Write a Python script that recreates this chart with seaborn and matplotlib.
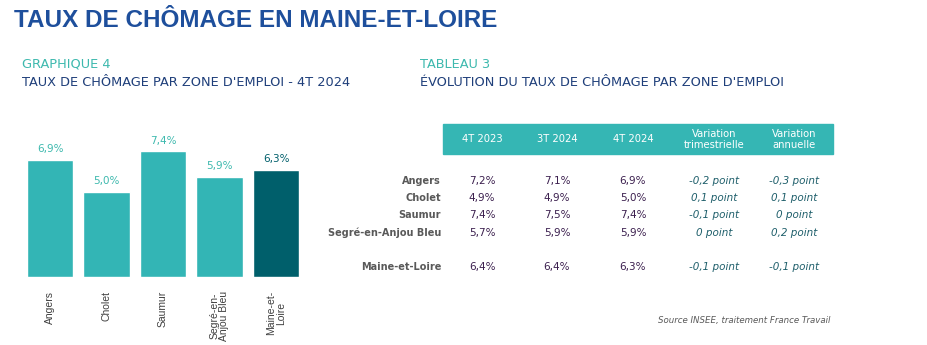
import matplotlib
matplotlib.use("Agg")
import matplotlib.pyplot as plt
import seaborn as sns
import pandas as pd
from matplotlib.patches import Rectangle

# ---- data ----
zones = ["Angers", "Cholet", "Saumur", "Segré-en-\nAnjou Bleu", "Maine-et-\nLoire"]
taux_4t2024 = [6.9, 5.0, 7.4, 5.9, 6.3]

table_rows = ["Angers", "Cholet", "Saumur", "Segré-en-Anjou Bleu", "Maine-et-Loire"]
col_headers = ["4T 2023", "3T 2024", "4T 2024", "Variation\ntrimestrielle", "Variation\nannuelle"]
t_4t2023 = [7.2, 4.9, 7.4, 5.7, 6.4]
t_3t2024 = [7.1, 4.9, 7.5, 5.9, 6.4]
t_4t2024 = [6.9, 5.0, 7.4, 5.9, 6.3]
var_trim = ["-0,2 point", "0,1 point", "-0,1 point", "0 point", "-0,1 point"]
var_ann = ["-0,3 point", "0,1 point", "0 point", "0,2 point", "-0,1 point"]

TEAL = "#33B5B5"
DARK = "#005F6B"
BLUE_T = "#1E4F9C"
NAVY = "#1F3F7A"

sns.set_theme(style="white")
plt.rcParams["font.family"] = ["DejaVu Sans"]

W, H = 927, 345
fig = plt.figure(figsize=(W / 100, H / 100), dpi=100)

def fx(px):
    return px / W

def fy(py):
    return 1 - py / H

# Titles
fig.text(fx(14), fy(27), "TAUX DE CHÔMAGE EN MAINE-ET-LOIRE", fontsize=17.5,
         fontweight="bold", color=BLUE_T, va="baseline", ha="left",
         family=["Liberation Sans", "DejaVu Sans"])
fig.text(fx(22), fy(64), "GRAPHIQUE 4", fontsize=9.25, color="#3DB9AE", va="center")
fig.text(fx(22), fy(83), "TAUX DE CHÔMAGE PAR ZONE D'EMPLOI - 4T 2024", fontsize=9.25,
         color=NAVY, va="center")
fig.text(fx(420), fy(64), "TABLEAU 3", fontsize=9.25, color="#3DB9AE", va="center")
fig.text(fx(420), fy(83), "ÉVOLUTION DU TAUX DE CHÔMAGE PAR ZONE D'EMPLOI", fontsize=9.25,
         color=NAVY, va="center")

# ---- bar chart ----
ax_left, ax_right = 21.75, 304.25
base_y = 277
ymax = 8.5
top_y = base_y - ymax * 17
ax = fig.add_axes([fx(ax_left), fy(base_y), fx(ax_right - ax_left), (base_y - top_y) / H])
df = pd.DataFrame({"zone": zones, "taux": taux_4t2024})
palette = [TEAL] * (len(zones) - 1) + [DARK]
sns.barplot(data=df, x="zone", y="taux", hue="zone", palette=palette, legend=False,
            width=0.82, ax=ax, saturation=1)
ax.set_ylim(0, ymax)
ax.set_xlim(-0.5, len(zones) - 0.5)
for sp in ax.spines.values():
    sp.set_visible(False)
ax.set_yticks([])
ax.set_xlabel("")
ax.set_ylabel("")
ax.tick_params(axis="x", length=0, pad=10, labelsize=7.5, labelcolor="#404040")
plt.setp(ax.get_xticklabels(), rotation=90, va="top", ha="center", linespacing=0.95,
         family=["Liberation Sans", "DejaVu Sans"])
for i, (cont, v) in enumerate(zip(ax.containers, taux_4t2024)):
    col = DARK if i == len(zones) - 1 else "#3DB9AE"
    ax.bar_label(cont, labels=[f"{v:.1f}%".replace(".", ",")], padding=4,
                 fontsize=7.5, color=col)

# ---- table ----
fig.patches.append(Rectangle((fx(443), fy(154)), fx(833 - 443), (154 - 124) / H,
                             transform=fig.transFigure, color="#35B6B4", zorder=0))
col_x = [482, 557, 633, 714, 794]
for cx, h in zip(col_x, col_headers):
    fig.text(fx(cx), fy(139.5), h, fontsize=7.2, color="white", ha="center",
             va="center", linespacing=1.15)

row_y = [181, 198, 215, 233, 267]
for ry, name, a, b, c, d, e in zip(row_y, table_rows, t_4t2023, t_3t2024, t_4t2024,
                                   var_trim, var_ann):
    fig.text(fx(441), fy(ry), name, fontsize=7, fontweight="bold", color="#595959",
             ha="right", va="center")
    for cx, v in zip(col_x[:3], [a, b, c]):
        fig.text(fx(cx), fy(ry), f"{v:.1f}%".replace(".", ","), fontsize=7.5,
                 color="#3B1F4E", ha="center", va="center")
    for cx, s in zip(col_x[3:], [d, e]):
        fig.text(fx(cx), fy(ry), s, fontsize=7.5, color="#1F5F6B", style="italic",
                 ha="center", va="center")

fig.text(fx(830), fy(320), "Source INSEE, traitement France Travail", fontsize=6.2,
         color="#595959", style="italic", ha="right", va="center")

fig.savefig("out.png", dpi=100, facecolor="white")
